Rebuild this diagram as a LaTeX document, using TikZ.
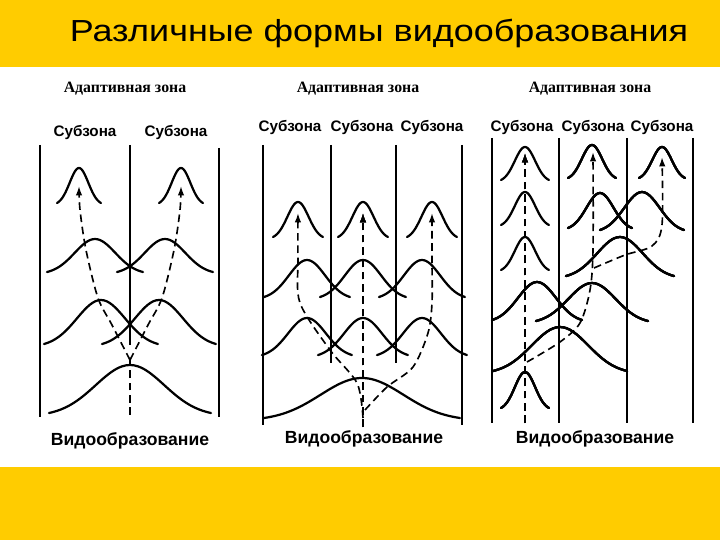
\documentclass[tikz,border=0pt]{standalone}
\usepackage{graphicx}
\usepackage{fontspec}
\setmainfont{Liberation Serif}
\setsansfont{Liberation Sans}
\usetikzlibrary{arrows.meta}
\definecolor{slideyellow}{RGB}{255,204,0}
\tikzstyle{zoneline}=[line width=1.6pt]
\tikzstyle{curve}=[line width=1.9pt,line cap=round]
\tikzstyle{lineage}=[line width=1.4pt,dash pattern=on 6.5pt off 4pt]
\tikzstyle{tip}=[-{Latex[length=8pt,width=5.5pt]}]
\tikzstyle{zonelabel}=[font=\bfseries\fontsize{13.5}{15}\selectfont,anchor=base]
\tikzstyle{sublabel}=[font=\sffamily\bfseries\fontsize{13}{15}\selectfont,anchor=base]
\tikzstyle{speclabel}=[font=\sffamily\bfseries\fontsize{15}{17}\selectfont,anchor=base]
% bell curve: centre, half width, peak y, base y
\newcommand{\bell}[4]{\draw[curve] plot[domain=-1:1,samples=41,smooth]
  ({#1+#2*\x},{#4-(#4-#3)*(exp(-2.8*\x*\x)-0.061)/0.939});}

\begin{document}
\begin{tikzpicture}[x=0.03cm,y=-0.03cm]
\useasboundingbox (0,0) rectangle (720,540);
\fill[slideyellow] (0,0) rectangle (720,540);
\fill[white] (0,67) rectangle (720,467);
\node[anchor=base,font=\sffamily\fontsize{26}{30}\selectfont] (title) at (379,42)
  {\scalebox{1.18}[1]{Различные формы видообразования}};

% first panel
\begin{scope}
  \node[zonelabel] (zone1) at (125,93) {Адаптивная зона};
  \node[sublabel] (sub1a) at (85,137) {Субзона};
  \node[sublabel] (sub1b) at (176,137) {Субзона};
  \node[speclabel] (spec1) at (130,445) {Видообразование};
  \draw[zoneline] (40,145) -- (40,417);
  \draw[zoneline] (130,145) -- (130,345);
  \draw[zoneline] (219,148) -- (219,417);
  \bell{130}{81}{365}{413}
  \bell{101}{57}{300}{344}
  \bell{159}{57}{300}{344}
  \bell{95}{48}{239}{272}
  \bell{165}{48}{239}{272}
  \bell{79}{22}{168}{203}
  \bell{181}{22}{168}{203}
  \draw[lineage] (130,415) -- (130,360);
  \draw[lineage,tip] plot[smooth] coordinates {(130,360) (112,325) (98,298) (86,250) (80,210) (79,186)};
  \draw[lineage,tip] plot[smooth] coordinates {(130,360) (148,325) (162,298) (174,250) (180,210) (181,186)};
\end{scope}

% second panel
\begin{scope}
  \node[zonelabel] (zone2) at (358,93) {Адаптивная зона};
  \node[sublabel] (sub2a) at (290,132) {Субзона};
  \node[sublabel] (sub2b) at (362,132) {Субзона};
  \node[sublabel] (sub2c) at (432,132) {Субзона};
  \node[speclabel] (spec2) at (364,443) {Видообразование};
  \foreach \zx in {263,462} \draw[zoneline] (\zx,145) -- (\zx,425);
  \foreach \zx in {331,396} \draw[zoneline] (\zx,145) -- (\zx,363);
  \bell{362}{98}{378}{418}
  \foreach \cx in {307,363,422} {
    \bell{\cx}{45}{318}{355}
    \bell{\cx}{43}{260}{297}
  }
  \foreach \cx in {298,363,432} \bell{\cx}{25}{202}{237}
  \draw[lineage,tip] (363,427) -- (363,213);
  \draw[lineage,tip] plot[smooth] coordinates {(363,418) (357,383) (330,350) (300,303) (298,260) (298,213)};
  \draw[lineage,tip] plot[smooth] coordinates {(365,410) (387,387) (413,367) (428,333) (432,303) (432,260) (432,213)};
\end{scope}

% third panel
\begin{scope}
  \node[zonelabel] (zone3) at (590,93) {Адаптивная зона};
  \node[sublabel] (sub3a) at (522,132) {Субзона};
  \node[sublabel] (sub3b) at (593,132) {Субзона};
  \node[sublabel] (sub3c) at (662,132) {Субзона};
  \node[speclabel] (spec3) at (595,443) {Видообразование};
  \foreach \zx in {492,559,627,693} \draw[zoneline] (\zx,138) -- (\zx,423);
  \foreach \py in {147,192,237} \bell{525}{24}{\py}{\py+33}
  \bell{525}{24}{372}{408}
  \bell{560}{67}{327}{371}
  \bell{537}{45}{282}{320}
  \bell{592}{56}{283}{321}
  \bell{620}{54}{237}{276}
  \bell{600}{32}{193}{228}
  \bell{642}{42}{192}{230}
  \bell{592}{24}{145}{178}
  \bell{662}{23}{147}{178}
  \draw[lineage,tip] (525,423) -- (525,153);
  \draw[lineage,tip] plot[smooth] coordinates {(527,362) (560,342) (580,323) (590,290) (593,250) (593,152)};
  \draw[lineage,tip] plot[smooth] coordinates {(594,268) (625,255) (652,246) (662,225) (662,157)};
\end{scope}
\end{tikzpicture}
\end{document}
